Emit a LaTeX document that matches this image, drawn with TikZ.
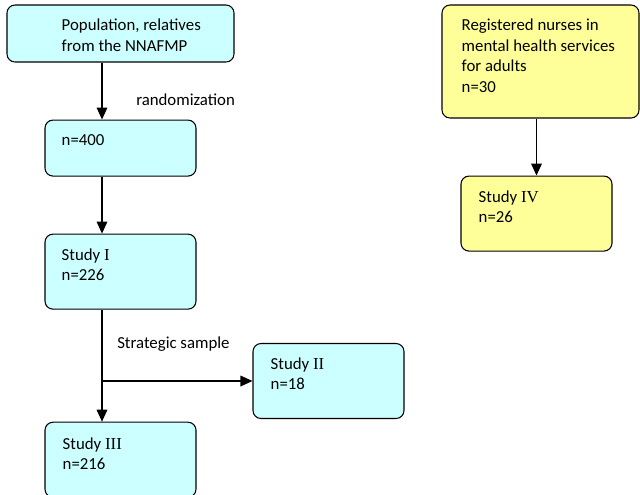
\documentclass[tikz,border=0pt]{standalone}
\usepackage{fontspec}
\setmainfont{Carlito}
\newfontfamily\numfont{Liberation Serif}
\usetikzlibrary{arrows.meta, positioning}
\usepackage{xcolor}
\definecolor{studycyan}{RGB}{204, 255, 255}
\definecolor{nurseyellow}{RGB}{255, 255, 153}

\begin{document}
\begin{tikzpicture}[
    x=0.75pt, y=-0.75pt,
    box/.style={rectangle, draw, line width=0.8pt, rounded corners=6pt, fill=studycyan, minimum width=113.25pt, minimum height=56.25pt, inner sep=0pt},
    ybox/.style={box, fill=nurseyellow},
    txt/.style={anchor=base west, inner sep=0pt, align=left, font=\fontsize{12.6}{15.4}\selectfont},
    arrow/.style={-{Triangle[length=9pt, width=8pt]}, line width=0.9pt}
]
\useasboundingbox (0,0) rectangle (640,494);

% left column
\node[box, minimum width=170.25pt, minimum height=42.75pt] (pop) at (120.5,33.5) {};
\node[box, minimum height=42pt, below=42.75pt of pop] (n400) {};
\node[box, below=42.75pt of n400] (study1) {};
\node[box, below=84pt of study1] (study3) {};
\node[box] (study2) at (328.5,381) {};

% right column
\node[ybox, minimum width=147.75pt, minimum height=84.75pt] (reg) at (540.5,61.5) {};
\node[ybox, below=42.75pt of reg, xshift=-3pt] (study4) {};

% texts (base = last line)
\node[txt] (popt) at ([shift={(55,47)}]pop.north west) {Population, relatives\\from the NNAFMP};
\node[txt] (n400t) at ([shift={(17,26)}]n400.north west) {n=400};
\node[txt] (study1t) at ([shift={(17,47)}]study1.north west) {Study {\numfont I}\\n=226};
\node[txt] (study2t) at ([shift={(18,47)}]study2.north west) {Study {\numfont II}\\n=18};
\node[txt] (study3t) at ([shift={(18,48)}]study3.north west) {Study {\numfont III}\\n=216};
\node[txt] (regt) at ([shift={(20,88)}]reg.north west) {Registered nurses in\\mental health services\\for adults\\n=30};
\node[txt] (study4t) at ([shift={(18,47)}]study4.north west) {Study {\numfont IV}\\n=26};
\node[txt] (randt) at (136,105) {randomization};
\node[txt] (stratt) at (117,348) {Strategic sample};

% connectors
\coordinate (spine) at (102,0);
\draw[arrow] (pop.south -| spine) -- (n400.north -| spine);
\draw[arrow] (n400.south -| spine) -- (study1.north -| spine);
\draw[arrow] (study1.south -| spine) -- (study3.north -| spine);
\draw[arrow] (study2.west -| spine) -- (study2.west);
\draw[arrow] (reg.south -| study4) -- (study4.north);
\end{tikzpicture}
\end{document}
